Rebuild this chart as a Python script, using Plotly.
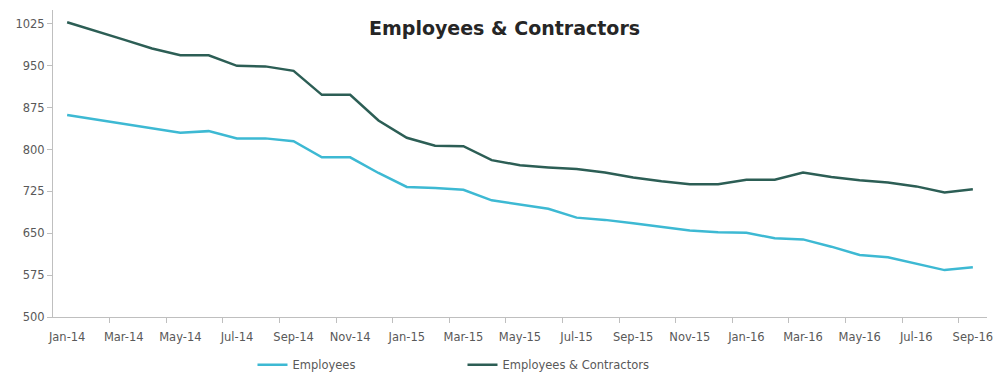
import plotly.graph_objects as go

months = ["Jan-14", "Feb-14", "Mar-14", "Apr-14", "May-14", "Jun-14", "Jul-14", "Aug-14",
          "Sep-14", "Oct-14", "Nov-14", "Dec-14", "Jan-15", "Feb-15", "Mar-15", "Apr-15",
          "May-15", "Jun-15", "Jul-15", "Aug-15", "Sep-15", "Oct-15", "Nov-15", "Dec-15",
          "Jan-16", "Feb-16", "Mar-16", "Apr-16", "May-16", "Jun-16", "Jul-16", "Aug-16",
          "Sep-16"]

employees = [862, 854, 846, 838, 830, 833, 820, 820, 815, 786, 786, 758, 733, 731, 728, 709,
             702, 694, 678, 674, 668, 661, 655, 652, 651, 641, 639, 626, 611, 607, 596, 584,
             589]

emp_contractors = [1028, 1013, 997, 981, 969, 969, 950, 949, 941, 898, 898, 852, 821, 807, 806,
                   781, 772, 768, 765, 759, 750, 743, 738, 738, 746, 746, 759, 751, 745, 741,
                   734, 723, 729]

y_ticks = [500, 575, 650, 725, 800, 875, 950, 1025]

x = list(range(len(months)))
label_idx = x[::2]
boundary_ticks = [i + 1.5 for i in x[:-1:2]]

FONT = "'DejaVu Sans', sans-serif"
AXIS_COLOR = "#BFBFBF"
TEXT_COLOR = "#595959"

fig = go.Figure()
fig.add_trace(go.Scatter(x=x, y=employees, mode="lines", name="Employees",
                         line=dict(color="#3DB9D3", width=2.5)))
fig.add_trace(go.Scatter(x=x, y=emp_contractors, mode="lines", name="Employees & Contractors",
                         line=dict(color="#2C5E55", width=2.5)))

fig.update_layout(
    width=998, height=373,
    margin=dict(l=53, r=5, t=10, b=56),
    plot_bgcolor="white", paper_bgcolor="white",
    font=dict(family=FONT, color=TEXT_COLOR, size=10),
    showlegend=True,
    legend=dict(orientation="h", xref="container", yref="container",
                x=0.253, xanchor="left", y=0.022, yanchor="middle",
                font=dict(size=11.5, color=TEXT_COLOR), entrywidth=165, entrywidthmode="pixels",
                bgcolor="rgba(0,0,0,0)", itemwidth=30),
    annotations=[dict(text="<b>Employees & Contractors</b>", xref="paper", yref="paper",
                      x=0.483, y=0.941, xanchor="center", yanchor="middle", showarrow=False,
                      font=dict(size=19, color="#262626", family=FONT))],
)

fig.update_xaxes(
    range=[-0.5, len(months) - 0.5],
    tickmode="array", tickvals=label_idx, ticktext=[months[i] for i in label_idx],
    ticks="", showgrid=False, zeroline=False,
    showline=True, linecolor=AXIS_COLOR, linewidth=1,
    tickfont=dict(size=11.5, color=TEXT_COLOR),
    ticklabelstandoff=9, ticklabeloverflow="allow",
    minor=dict(tickmode="array", tickvals=boundary_ticks, ticks="outside", ticklen=5,
               tickcolor=AXIS_COLOR, showgrid=False),
)
fig.update_yaxes(
    range=[500, 1050],
    tickmode="array", tickvals=y_ticks,
    ticks="outside", ticklen=5, tickcolor=AXIS_COLOR,
    showgrid=False, zeroline=False,
    showline=True, linecolor=AXIS_COLOR, linewidth=1,
    tickfont=dict(size=11.5, color=TEXT_COLOR),
)

fig.write_html("out.html")
